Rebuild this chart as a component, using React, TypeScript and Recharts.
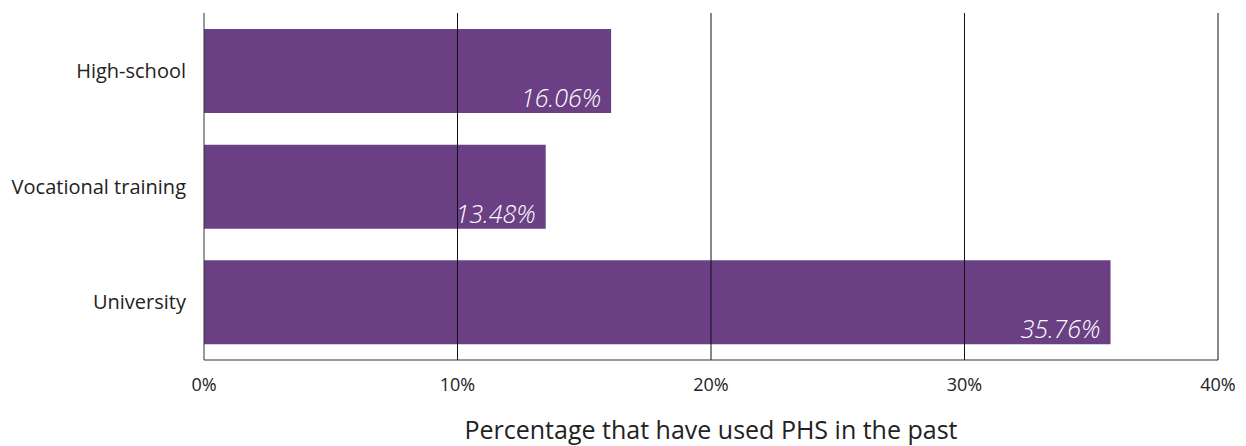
import React from "react";
import { BarChart, Bar, XAxis, YAxis, LabelList, ReferenceLine } from "recharts";

const categories = ["High-school", "Vocational training", "University"];
const usedPhs = [16.06, 13.48, 35.76];
const xTicks = [0, 10, 20, 30, 40];

const data = categories.map((name, i) => ({ name, value: usedPhs[i] }));

const FONT = "'Open Sans', 'DejaVu Sans', sans-serif";
const PURPLE = "#6a3f84";

const ValueLabel = (props: any) => {
  const { x, y, width, height, value } = props;
  return (
    <text
      x={x + width - 10}
      y={y + height - 6}
      textAnchor="end"
      fill="#ffffff"
      fontStyle="italic"
      fontWeight={300}
      fontSize={25}
      fontFamily={FONT}
    >
      {`${Number(value).toFixed(2)}%`}
    </text>
  );
};

export default function App() {
  return (
    <div style={{ position: "absolute", left: 0, top: 0, background: "#fff" }}>
      <BarChart
        width={1246}
        height={446}
        data={data}
        layout="vertical"
        margin={{ top: 13, right: 28, bottom: 0, left: 0 }}
      >
        <XAxis
          type="number"
          domain={[0, 40]}
          ticks={xTicks}
          tickFormatter={(v: number) => `${v}%`}
          tickLine={false}
          tickSize={0}
          tickMargin={18}
          height={86}
          axisLine={{ stroke: "#333", strokeWidth: 1 }}
          tick={{ fill: "#222", fontSize: 18, fontFamily: FONT }}
          label={{
            value: "Percentage that have used PHS in the past",
            position: "insideBottom",
            offset: 7,
            fill: "#222",
            fontSize: 25,
            fontFamily: FONT,
          }}
        />
        <YAxis
          type="category"
          dataKey="name"
          width={204}
          tickLine={false}
          tickSize={0}
          tickMargin={18}
          axisLine={{ stroke: "#333", strokeWidth: 1 }}
          tick={{ fill: "#222", fontSize: 20, fontFamily: FONT }}
        />
        <Bar dataKey="value" fill={PURPLE} barSize={84} isAnimationActive={false}>
          <LabelList dataKey="value" content={ValueLabel} />
        </Bar>
        {xTicks.slice(1).map((t) => (
          <ReferenceLine key={t} x={t} stroke="#111" strokeWidth={1} />
        ))}
      </BarChart>
    </div>
  );
}
